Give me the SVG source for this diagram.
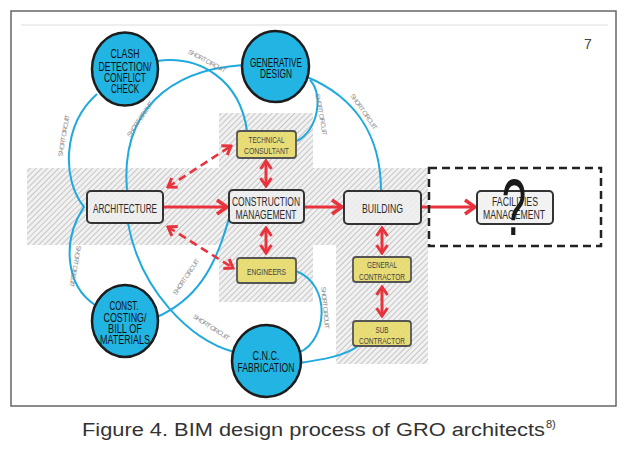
<svg xmlns="http://www.w3.org/2000/svg" width="630" height="461" viewBox="0 0 630 461">
<style>
.frame{fill:#fff;stroke:#666;stroke-width:1.5}
.hatch{fill:url(#hp)}
.blue{fill:none;stroke:#1fa9dd;stroke-width:2}
.circ{fill:#22b4e3;stroke:#1c1c1c;stroke-width:2.5}
.box{fill:#eeeeee;fill-opacity:0.85;stroke:#333;stroke-width:2}
.ybox{fill:#e8da6a;fill-opacity:0.9;stroke:#555;stroke-width:1.8}
.t{font-family:"Liberation Sans Narrow","Liberation Sans",Arial,sans-serif;fill:#2a2a2a;text-anchor:middle}
.bt{font-size:12.5px}
.ct{font-size:12px;fill:#111}
.yt{font-size:9.5px;fill:#444}
.sc{font-family:"Liberation Sans Narrow","Liberation Sans",Arial,sans-serif;font-size:6.5px;fill:#8a8a8a;text-anchor:middle}
.red{fill:none;stroke:#e8333c;stroke-width:3}
.dash{fill:none;stroke:#e8333c;stroke-width:2.6;stroke-dasharray:8 5}
</style>
<defs>
<pattern id="hp" patternUnits="userSpaceOnUse" width="4" height="4" patternTransform="rotate(45)">
<rect width="4" height="4" fill="#f1f1f1"/>
<line x1="0" y1="0" x2="0" y2="4" stroke="#9c9c9c" stroke-width="1"/>
</pattern>
<marker id="ah" markerUnits="userSpaceOnUse" markerWidth="16" markerHeight="18" viewBox="0 0 16 18" refX="13" refY="9" orient="auto-start-reverse">
<path d="M3,2 L13,9 L3,16" fill="none" stroke="#e8333c" stroke-width="3.5"/>
</marker>
<marker id="ahs" markerUnits="userSpaceOnUse" markerWidth="12" markerHeight="14" viewBox="0 0 12 14" refX="10" refY="7" orient="auto-start-reverse">
<path d="M2,1.5 L10,7 L2,12.5" fill="none" stroke="#e8333c" stroke-width="3"/>
</marker>
</defs>

<rect class="frame" x="11" y="11" width="605" height="395"/>
<line x1="21" y1="25" x2="608" y2="25" stroke="#eeeeee" stroke-width="2"/>
<text x="588" y="49" font-family="Liberation Sans, Arial, sans-serif" font-size="14" fill="#444" text-anchor="middle">7</text>

<g id="hatching">
<rect class="hatch" x="27" y="168" width="401" height="77"/>
<rect class="hatch" x="219" y="113" width="94" height="55"/>
<rect class="hatch" x="219" y="245" width="94" height="57"/>
<rect class="hatch" x="336" y="245" width="92" height="119"/>
</g>

<g id="connectors">
<path class="blue" d="M157,61 C200,55 240,80 247,131"/>
<path class="blue" d="M243,65 C170,70 120,110 127,191"/>
<path class="blue" d="M97,94 C62,125 62,180 84,207 C62,240 65,285 95,305"/>
<path class="blue" d="M310,80 C324,95 318,130 297,141"/>
<path class="blue" d="M307,77 C350,95 381,130 381,191"/>
<path class="blue" d="M128,223 C140,290 190,340 234,352"/>
<path class="blue" d="M229,218 C215,270 195,300 157,317"/>
<path class="blue" d="M296,271 C332,285 327,340 300,352"/>
<path class="blue" d="M300,363 C320,360 345,356 358,346"/>

<line class="red" x1="163" y1="207" x2="227" y2="207" marker-end="url(#ah)"/>
<line class="red" x1="304" y1="207" x2="342" y2="207" marker-end="url(#ah)"/>
<line class="red" x1="421" y1="207" x2="475" y2="207" marker-end="url(#ah)"/>
<line class="dash" x1="168" y1="187" x2="231" y2="146" marker-start="url(#ahs)" marker-end="url(#ahs)"/>
<line class="dash" x1="168" y1="227" x2="233" y2="268" marker-start="url(#ahs)" marker-end="url(#ahs)"/>
<line class="red" x1="266" y1="161" x2="266" y2="186" marker-start="url(#ahs)" marker-end="url(#ahs)"/>
<line class="red" x1="266" y1="228" x2="266" y2="253" marker-start="url(#ahs)" marker-end="url(#ahs)"/>
<line class="red" x1="382" y1="228" x2="382" y2="253" marker-start="url(#ahs)" marker-end="url(#ahs)"/>
<line class="red" x1="382" y1="287" x2="382" y2="316" marker-start="url(#ahs)" marker-end="url(#ahs)"/>

<text class="sc" transform="translate(206,63) rotate(28)" textLength="42">SHORT CIRCUIT</text>
<text class="sc" transform="translate(142,120) rotate(-56)" textLength="42">SHORT CIRCUIT</text>
<text class="sc" transform="translate(66,136) rotate(-80)" textLength="42">SHORT CIRCUIT</text>
<text class="sc" transform="translate(73,266) rotate(100)" textLength="42">SHORT CIRCUIT</text>
<text class="sc" transform="translate(188,278) rotate(-56)" textLength="42">SHORT CIRCUIT</text>
<text class="sc" transform="translate(210,329) rotate(33)" textLength="42">SHORT CIRCUIT</text>
<text class="sc" transform="translate(323,308) rotate(85)" textLength="42">SHORT CIRCUIT</text>
<text class="sc" transform="translate(319,115) rotate(80)" textLength="42">SHORT CIRCUIT</text>
<text class="sc" transform="translate(362,113) rotate(55)" textLength="42">SHORT CIRCUIT</text>
</g>

<rect x="429" y="168" width="172" height="78" fill="none" stroke="#222" stroke-width="2.5" stroke-dasharray="8 5"/>

<g id="clash">
<ellipse class="circ" cx="125" cy="69" rx="33" ry="36.5"/>
<text class="t ct" x="125" y="58" textLength="29" lengthAdjust="spacingAndGlyphs">CLASH</text>
<text class="t ct" x="125" y="70.5" textLength="53" lengthAdjust="spacingAndGlyphs">DETECTION/</text>
<text class="t ct" x="125" y="82" textLength="42" lengthAdjust="spacingAndGlyphs">CONFLICT</text>
<text class="t ct" x="125" y="93" textLength="28" lengthAdjust="spacingAndGlyphs">CHECK</text>
</g>
<g id="generative">
<ellipse class="circ" cx="275.5" cy="66.5" rx="33.5" ry="35.5"/>
<text class="t ct" x="276" y="67" textLength="52" lengthAdjust="spacingAndGlyphs">GENERATIVE</text>
<text class="t ct" x="276" y="78" textLength="32" lengthAdjust="spacingAndGlyphs">DESIGN</text>
</g>
<g id="costing">
<ellipse class="circ" cx="125" cy="321" rx="33" ry="36"/>
<text class="t ct" x="124" y="310" textLength="29" lengthAdjust="spacingAndGlyphs">CONST.</text>
<text class="t ct" x="125" y="322" textLength="43" lengthAdjust="spacingAndGlyphs">COSTING/</text>
<text class="t ct" x="125" y="333" textLength="34" lengthAdjust="spacingAndGlyphs">BILL OF</text>
<text class="t ct" x="125" y="344" textLength="50" lengthAdjust="spacingAndGlyphs">MATERIALS</text>
</g>
<g id="cnc">
<ellipse class="circ" cx="266.5" cy="361" rx="34.5" ry="36"/>
<text class="t ct" x="266" y="360" textLength="27" lengthAdjust="spacingAndGlyphs">C.N.C.</text>
<text class="t ct" x="266" y="372" textLength="57" lengthAdjust="spacingAndGlyphs">FABRICATION</text>
</g>

<g id="architecture">
<rect class="box" x="87" y="191" width="76" height="32" rx="4"/>
<text class="t bt" x="125" y="213" textLength="64" lengthAdjust="spacingAndGlyphs">ARCHITECTURE</text>
</g>
<g id="construction">
<rect class="box" x="229" y="190" width="75" height="33" rx="4"/>
<text class="t bt" x="266" y="206" textLength="68" lengthAdjust="spacingAndGlyphs">CONSTRUCTION</text>
<text class="t bt" x="266" y="219" textLength="61" lengthAdjust="spacingAndGlyphs">MANAGEMENT</text>
</g>
<g id="building">
<rect class="box" x="344" y="191" width="77" height="33" rx="4"/>
<text class="t bt" x="382.5" y="213" textLength="41" lengthAdjust="spacingAndGlyphs">BUILDING</text>
</g>
<g id="facilities">
<rect class="box" x="477" y="191" width="76" height="33" rx="4" style="fill:#f2f2f2;fill-opacity:1"/>
<text class="t bt" x="515" y="206" textLength="46" lengthAdjust="spacingAndGlyphs">FACILITIES</text>
<text class="t bt" x="514" y="219" textLength="62" lengthAdjust="spacingAndGlyphs">MANAGEMENT</text>
<text transform="translate(514,235) scale(0.55,1)" font-family="Liberation Sans, Arial, sans-serif" font-size="80" fill="#1a1a1a" text-anchor="middle">?</text>
</g>
<g id="technical">
<rect class="ybox" x="237" y="131" width="59" height="27" rx="3"/>
<text class="t yt" x="266.5" y="143" textLength="36" lengthAdjust="spacingAndGlyphs">TECHNICAL</text>
<text class="t yt" x="266.5" y="154" textLength="45" lengthAdjust="spacingAndGlyphs">CONSULTANT</text>
</g>
<g id="engineers">
<rect class="ybox" x="237" y="258" width="59" height="25" rx="3"/>
<text class="t yt" x="266.5" y="275" textLength="39" lengthAdjust="spacingAndGlyphs">ENGINEERS</text>
</g>
<g id="general">
<rect class="ybox" x="353" y="257" width="58" height="25" rx="3"/>
<text class="t yt" x="382" y="268" textLength="30" lengthAdjust="spacingAndGlyphs">GENERAL</text>
<text class="t yt" x="382" y="280" textLength="46" lengthAdjust="spacingAndGlyphs">CONTRACTOR</text>
</g>
<g id="sub">
<rect class="ybox" x="353" y="321" width="58" height="25" rx="3"/>
<text class="t yt" x="382" y="333" textLength="13" lengthAdjust="spacingAndGlyphs">SUB</text>
<text class="t yt" x="382" y="344" textLength="46" lengthAdjust="spacingAndGlyphs">CONTRACTOR</text>
</g>

<text x="82" y="436" font-family="Liberation Sans, Arial, sans-serif" font-size="18" fill="#333" textLength="463" lengthAdjust="spacingAndGlyphs">Figure 4. BIM design process of GRO architects</text>
<text x="546" y="428" font-family="Liberation Sans, Arial, sans-serif" font-size="11" fill="#333">8)</text>
</svg>
